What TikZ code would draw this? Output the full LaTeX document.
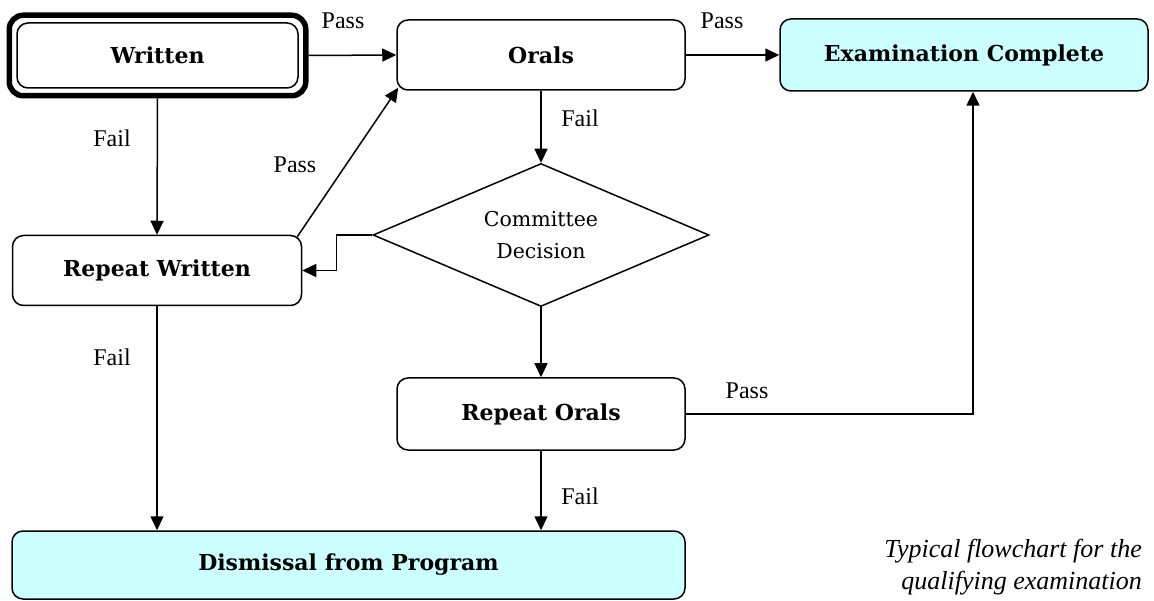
\documentclass[tikz,border=0pt]{standalone}
\usepackage{fontspec}
\setmainfont{Liberation Serif}
\newfontfamily\geo{DejaVu Serif}
\usetikzlibrary{shapes.geometric,arrows.meta,fit}
\definecolor{lcyan}{HTML}{CCFFFF}
\tikzset{
  box/.style={draw, line width=1.5pt, rounded corners=11pt, align=center, inner sep=0pt,
    font=\geo\bfseries\fontsize{22}{26}\selectfont},
  arr/.style={line width=1.5pt, -{Triangle[length=14pt,width=13pt]}},
  lbl/.style={font=\fontsize{24}{28}\selectfont, inner sep=0pt},
}
\begin{document}
\begin{tikzpicture}[x=1pt,y=-1pt]
\useasboundingbox (0,0) rectangle (1154,601);
\node[box, minimum width=281pt, minimum height=65pt] (written) at (157.5,55.5) {Written};
\node[fit=(written), draw, line width=5.5pt, rounded corners=14pt, inner sep=7pt] (writtenframe) {};
\node[box, minimum width=288pt, minimum height=70pt] (orals) at (541,55) {Orals};
\node[box, fill=lcyan, minimum width=368pt, minimum height=72pt] (exam) at (964,55) {Examination Complete};
\node[draw, diamond, aspect=2.35, line width=1.5pt, inner sep=0pt, minimum width=336pt, minimum height=143pt,
  align=center, font=\geo\fontsize{20.5}{32}\selectfont] (decision) at (541,235) {Committee\\Decision};
\node[box, minimum width=289pt, minimum height=70pt] (repwritten) at (157,270.5) {Repeat Written};
\node[box, minimum width=288pt, minimum height=72pt] (reporals) at (541,414) {Repeat Orals};
\node[box, fill=lcyan, minimum width=673pt, minimum height=68pt] (dismissal) at (348.5,565) {Dismissal from Program};

\draw[arr] (writtenframe.east) -- (orals.west);
\draw[arr] (orals.east) -- (exam.west);
\draw[arr] (writtenframe.south) -- (repwritten.north);
\draw[arr] (orals.south) -- (decision.north);
\draw[arr] (decision.west) -- ++(-36,0) |- (repwritten.east);
\draw[arr] ([shift={(-5,2)}]repwritten.north east) -- ([shift={(2,-3)}]orals.south west);
\draw[arr] (repwritten.south) -- (repwritten.south |- dismissal.north);
\draw[arr] (decision.south) -- (reporals.north);
\draw[arr] (reporals.east) -| ([xshift=9pt]exam.south);
\draw[arr] (reporals.south) -- (reporals.south |- dismissal.north);

\node[lbl] (l1) at (343,21) {Pass};
\node[lbl] (l2) at (722,21) {Pass};
\node[lbl] (l3) at (112,138) {Fail};
\node[lbl] (l4) at (580,118) {Fail};
\node[lbl] (l5) at (295,165) {Pass};
\node[lbl] (l6) at (112,357) {Fail};
\node[lbl] (l7) at (747,391) {Pass};
\node[lbl] (l8) at (580,496) {Fail};
\node[anchor=east, align=right, inner sep=0pt, font=\itshape\fontsize{26}{32}\selectfont] (cap) at (1142,567)
  {Typical flowchart for the\\qualifying examination};
\end{tikzpicture}
\end{document}
